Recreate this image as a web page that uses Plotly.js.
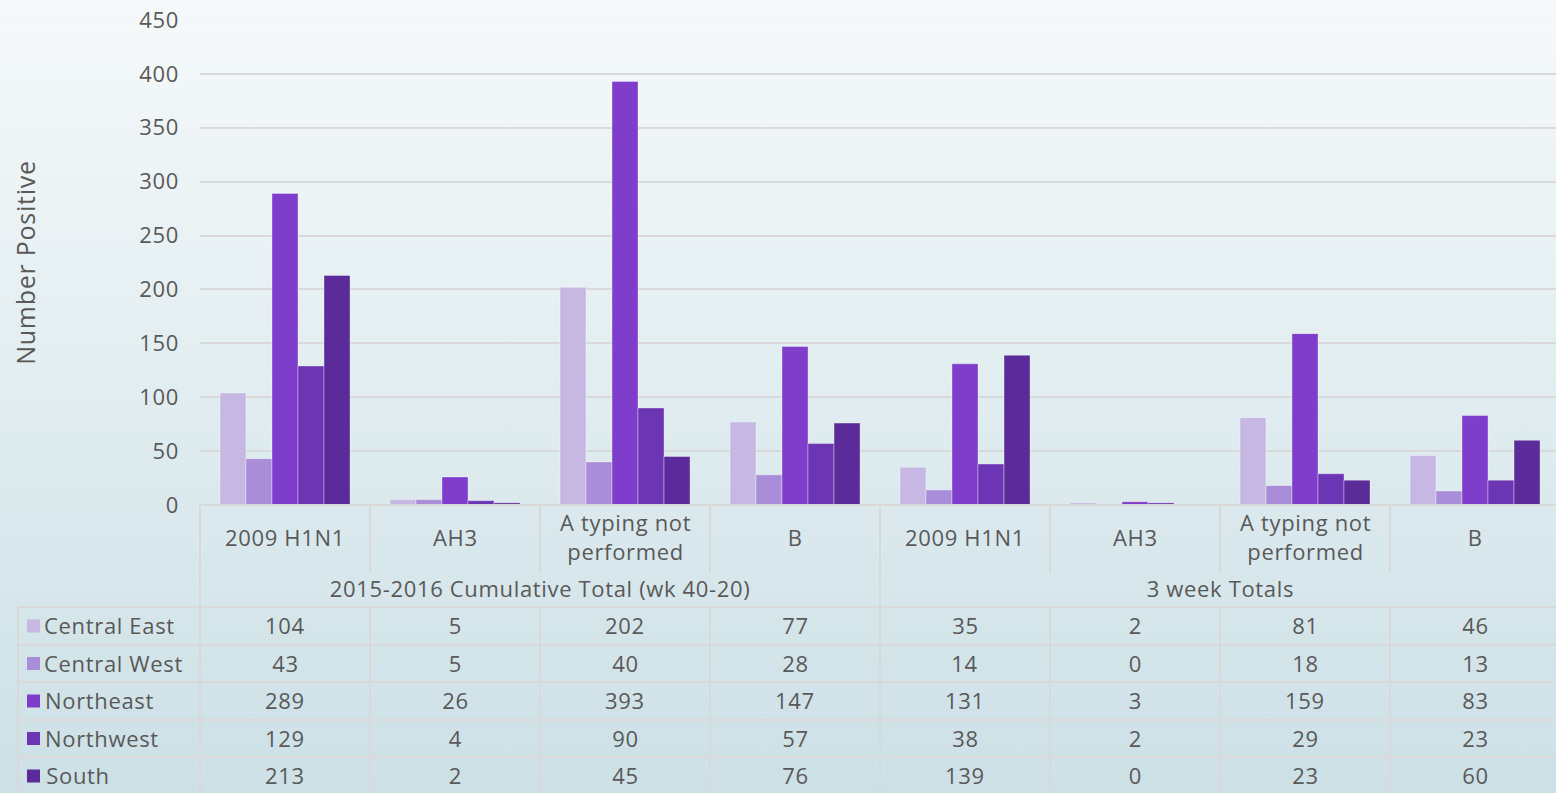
<!DOCTYPE html>
<html>
<head>
<meta charset="utf-8">
<script src="https://cdn.plot.ly/plotly-3.0.1.min.js"></script>
<style>
html,body{margin:0;padding:0;width:1556px;height:793px;overflow:hidden;
background:linear-gradient(to bottom,#F6F9FA 0%,#E3EEF1 45%,#CCE0E6 100%);}
#chart{width:1556px;height:793px;}
#chart text{letter-spacing:0.03em;}
</style>
</head>
<body>
<div id="chart"></div>
<script>
// ---- data ----
const categories = ["2009 H1N1","AH3","A typing not<br>performed","B","2009 H1N1","AH3","A typing not<br>performed","B"];
const groups = ["2015-2016 Cumulative Total (wk 40-20)","3 week Totals"];
const seriesNames = ["Central East","Central West","Northeast","Northwest","South"];
const centralEast = [104,5,202,77,35,2,81,46];
const centralWest = [43,5,40,28,14,0,18,13];
const northeast   = [289,26,393,147,131,3,159,83];
const northwest   = [129,4,90,57,38,2,29,23];
const south       = [213,2,45,76,139,0,23,60];
const yTicks = [0,50,100,150,200,250,300,350,400,450];

// ---- style ----
const colors = ["#C6B8E3","#A98DD9","#7E3DCB","#6B35B3","#5B2B99"];
const series = [centralEast,centralWest,northeast,northwest,south];
const FONT = "Open Sans, sans-serif";
const TXT = "#595959";
const LINE = "#D9D9D9";
const FS = 22;

const W = 1556, H = 793;
const L = 200, T = 20, B = 505;        // plot area pixels
const plotW = W - L, plotH = B - T;
const catW = 170;
const px2x = p => (p - L) / plotW;
const py2y = p => (B - p) / plotH;

const xs = categories.map((_, i) => i);
const traces = series.map((vals, k) => ({
  type: "bar",
  name: seriesNames[k],
  x: xs,
  y: vals,
  marker: {color: colors[k], line: {color: "rgba(255,255,255,0.35)", width: 1}},
  hoverinfo: "y+name",
  showlegend: false
}));

const shapes = [];
const annotations = [];
const hline = (x0, x1, yp) => shapes.push({type:"line", xref:"paper", yref:"paper",
  x0:px2x(x0), x1:px2x(x1), y0:py2y(yp), y1:py2y(yp), line:{color:LINE, width:2}});
const vline = (xp, y0, y1) => shapes.push({type:"line", xref:"paper", yref:"paper",
  x0:px2x(xp), x1:px2x(xp), y0:py2y(y0), y1:py2y(y1), line:{color:LINE, width:2}});

// axis / header borders
hline(L, W + 10, 505);
vline(L, 505, H + 5);
for (let i = 1; i < categories.length; i++) {
  const xp = L + i * catW;
  if (i === 4) vline(xp, 505, H + 5);
  else { vline(xp, 505, 572); vline(xp, 607, H + 5); }
}
// table
const rowTops = [607, 645, 682, 720, 757, 795];
hline(18, W + 10, 607);
for (let r = 1; r < rowTops.length - 1; r++) hline(18, W + 10, rowTops[r]);
vline(18, 607, H + 5);

// category labels
categories.forEach((c, i) => {
  annotations.push({xref:"paper", yref:"paper", x:px2x(L + (i + 0.5) * catW), y:py2y(536.5),
    text:c, showarrow:false, xanchor:"center", yanchor:"middle",
    font:{family:FONT, size:FS, color:TXT}});
});
groups.forEach((g, j) => {
  annotations.push({xref:"paper", yref:"paper", x:px2x(L + (j * 4 + 2) * catW), y:py2y(588),
    text:g, showarrow:false, xanchor:"center", yanchor:"middle",
    font:{family:FONT, size:FS, color:TXT}});
});
// table rows
series.forEach((vals, k) => {
  const yc = (rowTops[k] + rowTops[k + 1]) / 2;
  shapes.push({type:"rect", xref:"paper", yref:"paper",
    x0:px2x(27), x1:px2x(40), y0:py2y(yc - 6.5), y1:py2y(yc + 6.5),
    fillcolor:colors[k], line:{width:0}});
  annotations.push({xref:"paper", yref:"paper", x:px2x(46), y:py2y(yc - 1),
    text:seriesNames[k], showarrow:false, xanchor:"left", yanchor:"middle",
    font:{family:FONT, size:FS, color:TXT}});
  vals.forEach((v, i) => {
    annotations.push({xref:"paper", yref:"paper", x:px2x(L + (i + 0.5) * catW), y:py2y(yc - 1),
      text:String(v), showarrow:false, xanchor:"center", yanchor:"middle",
      font:{family:FONT, size:FS, color:TXT}});
  });
});

const layout = {
  width: W, height: H,
  margin: {l: L, r: 0, t: T, b: H - B, pad: 0},
  paper_bgcolor: "rgba(0,0,0,0)",
  plot_bgcolor: "rgba(0,0,0,0)",
  barmode: "group",
  bargap: 0.235,
  bargroupgap: 0,
  font: {family: FONT, color: TXT, size: FS},
  xaxis: {range: [-0.5, -0.5 + plotW / catW], showticklabels: false, showgrid: false,
    zeroline: false, showline: false, ticks: "", fixedrange: true},
  yaxis: {range: [0, 450], tickvals: yTicks, showgrid: true, gridcolor: LINE, gridwidth: 2,
    zeroline: false, showline: false, ticks: "", ticklabelstandoff: 20,
    tickfont: {family: FONT, size: FS, color: TXT},
    title: {text: "Number Positive", standoff: 98, font: {family: FONT, size: 25, color: TXT}}},
  shapes: shapes,
  annotations: annotations
};

Plotly.newPlot("chart", traces, layout, {displayModeBar: false, staticPlot: true});
</script>
</body>
</html>
